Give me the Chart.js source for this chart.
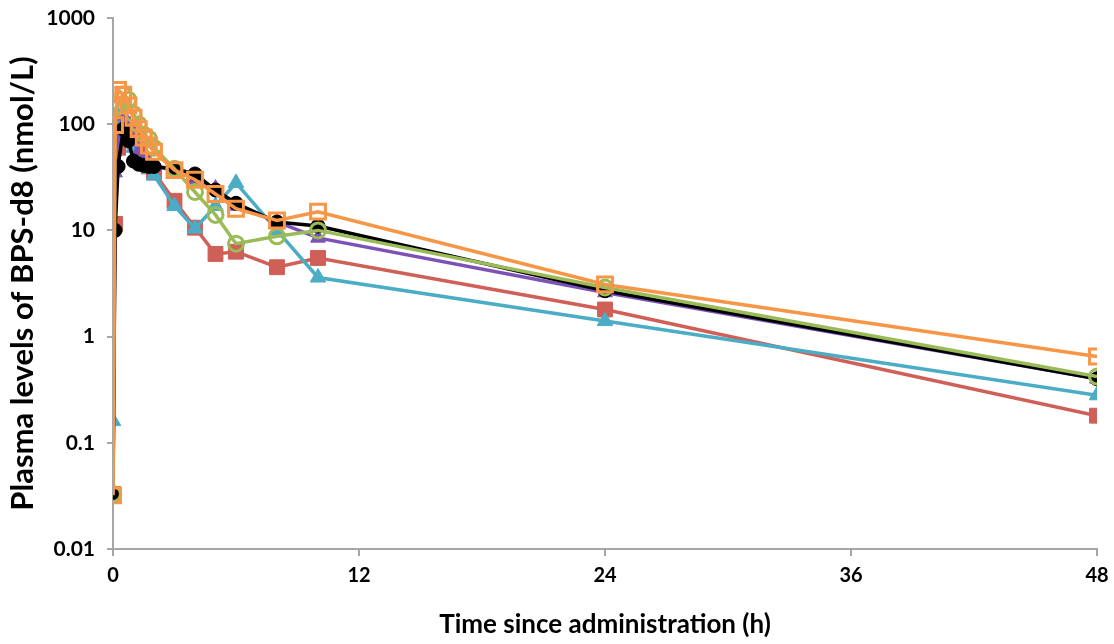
<!DOCTYPE html>
<html>
<head>
<meta charset="utf-8">
<script src="https://cdn.jsdelivr.net/npm/chart.js@4.4.1/dist/chart.umd.min.js"></script>
<style>
  html, body { margin: 0; padding: 0; background: #fff; }
</style>
</head>
<body>
<canvas id="chart" width="1114" height="644"></canvas>
<script>
// sampling times (h)
var times = [0, 0.1, 0.25, 0.5, 0.75, 1, 1.25, 1.5, 1.75, 2, 3, 4, 5, 6, 8, 10, 24, 48];

// plasma levels (nmol/L), one array per subject
var subjOrange = [0.032, 98, 210, 190, 150, 115, 90, 75, 63, 55, 37, 30, 22, 16, 12.4, 15, 3.1, 0.65];
var subjGreen  = [0.033, 140, 150, 190, 170, 125, 100, 80, 73, 60, 38, 23, 14, 7.5, 8.8, 10, 2.9, 0.42];
var subjBlack  = [0.033, 10, 40, 90, 70, 45, 42, 41, 40, 40, 38, 34, 24, 18, 12, 11, 2.7, 0.4];
var subjPurple = [0.033, 35, 80, 120, 100, 70, 55, 45, 42, 40, 37, 30, 25, 17, 12, 8.5, 2.6, 0.4];
var subjCyan   = [0.16, 95, 120, 110, 80, 60, 50, 42, 38, 33, 17, 10.4, 17, 28, 10, 3.6, 1.4, 0.28];
var subjRed    = [0.033, 11.5, 60, 100, 85, 70, 55, 45, 40, 35, 19, 10.6, 6, 6.3, 4.5, 5.5, 1.8, 0.18];

var xTicks = [0, 12, 24, 36, 48];
var yTicks = [0.01, 0.1, 1, 10, 100, 1000];

function pts(vals) {
  return times.map(function (t, i) { return { x: t, y: vals[i] }; });
}

function series(vals, color, style, filled, radius) {
  return {
    data: pts(vals),
    borderColor: color,
    backgroundColor: filled ? color : 'rgba(0,0,0,0)',
    borderWidth: 3.5,
    pointStyle: style,
    pointRadius: radius,
    pointBorderWidth: filled ? 1 : 3,
    pointBorderColor: color,
    pointBackgroundColor: filled ? color : 'rgba(0,0,0,0)',
    fill: false,
    tension: 0
  };
}

var axisGrey = '#a6a6a6';
var ctx = document.getElementById('chart').getContext('2d');
var chart = new Chart(ctx, {
  type: 'line',
  data: {
    datasets: [
      series(subjOrange, '#F79646', 'rect', false, 10.5),
      series(subjGreen, '#9BBB59', 'circle', false, 7.5),
      series(subjBlack, '#000000', 'circle', true, 7),
      series(subjPurple, '#7D52B8', 'triangle', true, 8.5),
      series(subjCyan, '#4BACC6', 'triangle', true, 9),
      series(subjRed, '#CF5F57', 'rect', true, 10.5)
    ]
  },
  options: {
    responsive: false,
    animation: false,
    maintainAspectRatio: false,
    layout: { padding: { left: 0, right: 17, top: 18, bottom: 0 } },
    plugins: { legend: { display: false }, tooltip: { enabled: false } },
    scales: {
      x: {
        type: 'linear',
        min: 0,
        max: 48,
        afterBuildTicks: function (s) { s.ticks = xTicks.map(function (v) { return { value: v }; }); },
        afterFit: function (s) { s.height = 95; s.paddingLeft = 0; s.paddingRight = 0; },
        grid: { drawOnChartArea: false, drawTicks: true, tickLength: 7, color: axisGrey, lineWidth: 2 },
        border: { color: axisGrey, width: 2 },
        ticks: { color: '#000', padding: 8, font: { family: 'Lato', size: 20, weight: 'bold' }, maxRotation: 0 },
        title: { display: true, text: 'Time since administration (h)', color: '#000', padding: { top: 6 },
                 font: { family: 'Lato', size: 26, weight: 'bold' } }
      },
      y: {
        type: 'logarithmic',
        min: 0.01,
        max: 1000,
        afterBuildTicks: function (s) { s.ticks = yTicks.map(function (v) { return { value: v }; }); },
        afterFit: function (s) { s.width = 113; s.paddingTop = 0; s.paddingBottom = 0; },
        grid: { drawOnChartArea: false, drawTicks: true, tickLength: 6, color: axisGrey, lineWidth: 2 },
        border: { color: axisGrey, width: 2 },
        ticks: { color: '#000', padding: 12, font: { family: 'Lato', size: 21, weight: 'bold' },
                 callback: function (v) { return String(v); } },
        title: { display: true, text: 'Plasma levels of BPS-d8 (nmol/L)', color: '#000', padding: { top: 4, bottom: 0 },
                 font: { family: 'Lato', size: 31, weight: 'bold' } }
      }
    }
  }
});
</script>
</body>
</html>
